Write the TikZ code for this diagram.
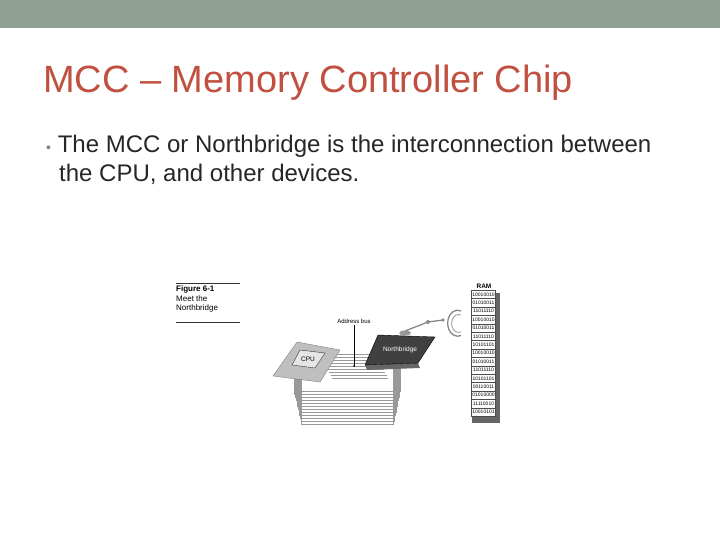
\documentclass[tikz,border=0pt]{standalone}
\usepackage{fontspec}
\setmainfont{Liberation Sans}
\begin{document}
\begin{tikzpicture}[x=1pt,y=-1pt,
  ramcell/.style={draw=black!70,fill=white,minimum width=24pt,minimum height=8.4pt,inner sep=0pt,font=\fontsize{5}{5}\selectfont},
  bus/.style={draw=black!40,line width=0.5pt},
  small/.style={font=\fontsize{8}{9.5}\selectfont,inner sep=0pt}]
\useasboundingbox (0,0) rectangle (720,540);
\fill[fill={rgb,255:red,143;green,160;blue,148}] (0,0) rectangle (720,28);
\node[anchor=west,inner sep=0pt,text={rgb,255:red,192;green,80;blue,64},font=\fontsize{38}{40}\selectfont] (title) at (43,83) {MCC -- Memory Controller Chip};
\node[anchor=north west,inner sep=0pt,align=left,text=black!85,font=\fontsize{24}{29}\selectfont] (bul) at (46,135)
 {{\color{black!50}\fontsize{14}{14}\selectfont\textbullet}\ The MCC or Northbridge is the interconnection between\\\hspace*{13pt}the CPU, and other devices.};
% figure caption
\draw[black!80] (176,283) -- (240,283);
\draw[black!80] (176,322) -- (240,322);
\node[anchor=north west,align=left,small] (cap) at (176,286) {\textbf{Figure 6-1}\\Meet the\\Northbridge};
% lower bus loops
\foreach \i in {0,...,11} {
  \draw[bus] (294+\i*0.7,370) -- (294+\i*0.7,391+\i*3) -- (400-\i*0.6,391+\i*3) -- (400-\i*0.6,362);
}
% upper bus lines
\foreach \i in {0,...,8} {
  \draw[bus] (320+\i*1.5,354+\i*3) -- (376+\i*1.5,354+\i*3);
}
% CPU
\filldraw[fill=black!25,draw=black!50] (297,342) -- (340,350) -- (320,382) -- (273,376) -- cycle;
\filldraw[fill=black!10,draw=black!80] (300,350) -- (325,353) -- (315,368) -- (292,365) -- cycle;
\node[inner sep=0pt,font=\fontsize{6.5}{6.5}\selectfont] (cpu) at (308,359) {CPU};
% Northbridge
\fill[black!60] (365,365) -- (418,363) -- (420,368) -- (367,370) -- cycle;
\filldraw[fill=black!75,draw=black] (378,335) -- (435,337) -- (418,363) -- (365,365) -- cycle;
\node[inner sep=0pt,text=white,font=\fontsize{6.5}{6.5}\selectfont] (nb) at (400,350) {Northbridge};
% address bus
\node[inner sep=0pt,font=\fontsize{6}{6}\selectfont] (ab) at (354,321) {Address bus};
\coordinate (abend) at (354,366);
\draw[black] (354,325) -- (abend);
\fill (abend) circle (1pt);
% arm
\fill[black!40] (405,333) ellipse (6pt and 2.5pt);
\draw[black!50,line width=1.2pt] (405,331) -- (428,322) -- (443,320);
\fill[black!45] (428,322) circle (2pt);
\fill[black!45] (443,320) circle (1.8pt);
\draw[black!50,line width=1.2pt] (461,311) arc (70:290:10pt and 13pt);
\draw[black!35,line width=1pt] (461,315) arc (70:290:7pt and 9pt);
% RAM
\node[inner sep=0pt,font=\bfseries\fontsize{6.5}{6.5}\selectfont] (ramlab) at (484,286) {RAM};
\fill[black!60] (472,293) rectangle (500,423);
\foreach [count=\k] \v in {10010010,01010011,11011110,10010010,01010011,11011110,10101101,10010010,01010011,11011110,10101101,00110011,01010000,11110010,10010101}
  \node[ramcell] (r\k) at (483.5,286+\k*8.4) {\v};
\end{tikzpicture}
\end{document}
